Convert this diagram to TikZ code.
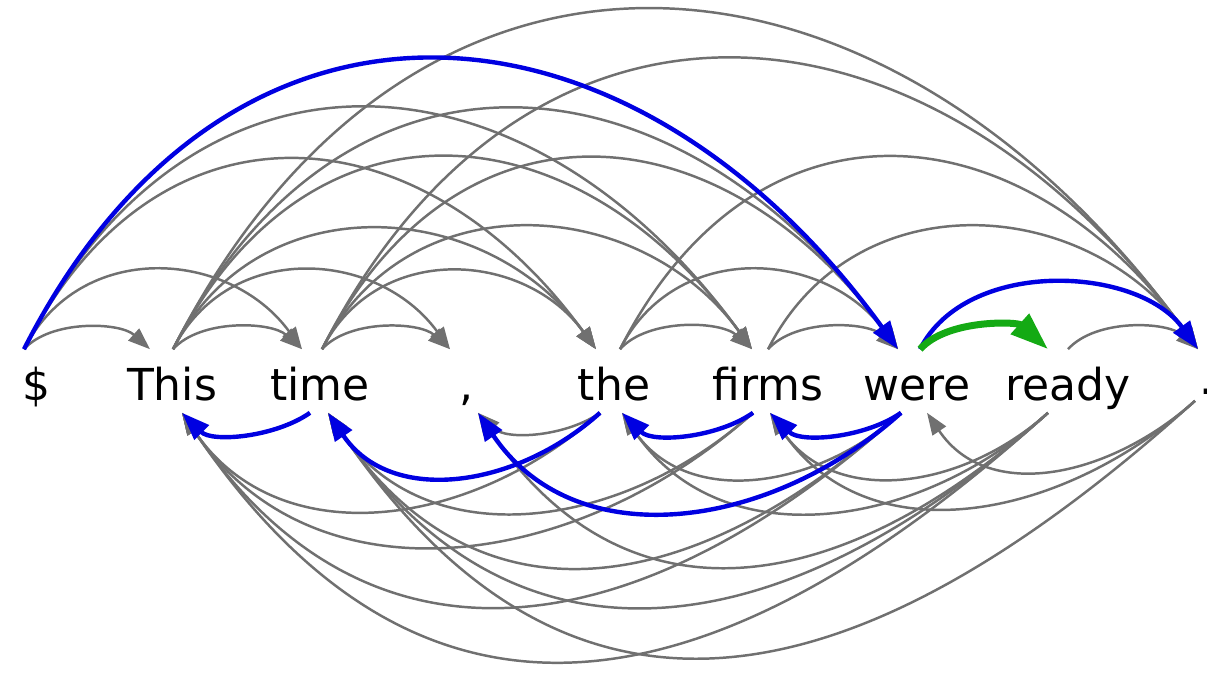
\documentclass[tikz,border=0pt]{standalone}
\usepackage{fontspec}
\newfontfamily\wf{DejaVu Sans}
\usetikzlibrary{arrows.meta}
\definecolor{arcgray}{RGB}{112,112,112}
\definecolor{goldblue}{RGB}{0,0,225}
\definecolor{pickgreen}{RGB}{20,170,20}
\begin{document}
\begin{tikzpicture}[x=0.25pt,y=0.25pt,
  word/.style={font=\wf\fontsize{11}{12.5}\selectfont, inner sep=0pt, text height=12.5pt, text depth=3pt, anchor=base},
  cand/.style={draw=arcgray, line width=0.62pt, -{Triangle[length=5.5pt,width=4pt]}},
  gold/.style={draw=goldblue, line width=1.1pt, -{Triangle[length=7pt,width=5pt]}},
  pick/.style={draw=pickgreen, line width=1.75pt, -{Triangle[length=9.5pt,width=6.5pt]}},
  tS/.style={out=48,in=138,looseness=0.82},
  tM/.style={out=63,in=126,looseness=1.14},
  tL/.style={out=63,in=126,looseness=1.33},
  bS/.style={out=-145,in=-45,looseness=0.85},
  bM/.style={out=-138,in=-56,looseness=1.06},
  bL/.style={out=-138,in=-56,looseness=1.22},
  bX/.style={out=-138,in=-56,looseness=1.3}]
\useasboundingbox (0,0) rectangle (1207,676);
% words
\node[word] (dollar) at (36,276) {\$};
\node[word] (this) at (172,276) {This};
\node[word] (time) at (320,276) {time};
\node[word] (comma) at (466,276) {,};
\node[word] (the) at (614,276) {the};
\node[word] (firms) at (768,276) {firms};
\node[word] (were) at (917,276) {were};
\node[word] (ready) at (1068,276) {ready};
\node[word] (dot) at (1206,282) {.};
% anchor points
\coordinate (dollar-to) at ([xshift=-3pt]dollar.north);
\coordinate (this-ti) at ([xshift=-5.5pt]this.north);
\coordinate (this-to) at ([xshift=0.25pt]this.north);
\coordinate (this-bi) at ([xshift=2.5pt]this.south);
\coordinate (time-ti) at ([xshift=-4.5pt]time.north);
\coordinate (time-to) at ([xshift=0.5pt]time.north);
\coordinate (time-bi) at ([xshift=2pt]time.south);
\coordinate (time-bo) at ([xshift=-2.5pt]time.south);
\coordinate (comma-ti) at ([xshift=-4pt]comma.north);
\coordinate (comma-bi) at ([xshift=3pt]comma.south);
\coordinate (the-ti) at ([xshift=-4.5pt]the.north);
\coordinate (the-to) at ([xshift=1.5pt]the.north);
\coordinate (the-bi) at ([xshift=2pt]the.south);
\coordinate (the-bo) at ([xshift=-3.5pt]the.south);
\coordinate (firms-ti) at ([xshift=-4pt]firms.north);
\coordinate (firms-to) at ([xshift=0pt]firms.north);
\coordinate (firms-bi) at ([xshift=0.5pt]firms.south);
\coordinate (firms-bo) at ([xshift=-3.75pt]firms.south);
\coordinate (were-ti) at ([xshift=-4.75pt]were.north);
\coordinate (were-to) at ([xshift=0.75pt]were.north);
\coordinate (were-bi) at ([xshift=2.5pt]were.south);
\coordinate (were-bo) at ([xshift=-4pt]were.south);
\coordinate (ready-ti) at ([xshift=-5pt]ready.north);
\coordinate (ready-to) at ([xshift=0pt]ready.north);
\coordinate (ready-bo) at ([xshift=-5pt]ready.south);
\coordinate (dot-ti) at ([xshift=-2pt,yshift=-1.5pt]dot.north);
\coordinate (dot-bo) at ([xshift=-2.75pt,yshift=1.5pt]dot.south);
% candidate arcs above (head left, dependent right)
\draw[cand] (dollar-to) to[tS] (this-ti);
\draw[cand] (dollar-to) to[tM] (time-ti);
\draw[cand] (dollar-to) to[tL] (the-ti);
\draw[cand] (dollar-to) to[tL] (firms-ti);
\draw[cand] (this-to) to[tS] (time-ti);
\draw[cand] (this-to) to[tM] (comma-ti);
\draw[cand] (this-to) to[tM] (the-ti);
\draw[cand] (this-to) to[tL] (firms-ti);
\draw[cand] (this-to) to[tL] (were-ti);
\draw[cand] (this-to) to[tL] (dot-ti);
\draw[cand] (time-to) to[tS] (comma-ti);
\draw[cand] (time-to) to[tM] (the-ti);
\draw[cand] (time-to) to[tM] (firms-ti);
\draw[cand] (time-to) to[tL] (were-ti);
\draw[cand] (time-to) to[tL] (dot-ti);
\draw[cand] (the-to) to[tS] (firms-ti);
\draw[cand] (the-to) to[tM] (were-ti);
\draw[cand] (the-to) to[tL] (dot-ti);
\draw[cand] (firms-to) to[tS] (were-ti);
\draw[cand] (firms-to) to[tM] (dot-ti);
\draw[cand] (ready-to) to[tS] (dot-ti);
% candidate arcs below (head right, dependent left)
\draw[cand] (the-bo) to[bS] (comma-bi);
\draw[cand] (the-bo) to[bM] (this-bi);
\draw[cand] (firms-bo) to[bM] (time-bi);
\draw[cand] (firms-bo) to[bM] (this-bi);
\draw[cand] (were-bo) to[bM] (the-bi);
\draw[cand] (were-bo) to[bL] (time-bi);
\draw[cand] (were-bo) to[bL] (this-bi);
\draw[cand] (ready-bo) to[bM] (firms-bi);
\draw[cand] (ready-bo) to[bM] (the-bi);
\draw[cand] (ready-bo) to[bL] (comma-bi);
\draw[cand] (ready-bo) to[bL] (time-bi);
\draw[cand] (ready-bo) to[bX] (this-bi);
\draw[cand] (dot-bo) to[bM] (were-bi);
\draw[cand] (dot-bo) to[bM] (firms-bi);
\draw[cand] (dot-bo) to[bX] (time-bi);
% selected tree
\draw[gold] (dollar-to) to[tL] (were-ti);
\draw[gold] (were-to) to[tM, looseness=0.95] (dot-ti);
\draw[gold] (time-bo) to[bS] (this-bi);
\draw[gold] (the-bo) to[bM] (time-bi);
\draw[gold] (firms-bo) to[bS] (the-bi);
\draw[gold] (were-bo) to[bS] (firms-bi);
\draw[gold] (were-bo) to[bM] (comma-bi);
\draw[pick] (were-to) to[tS] (ready-ti);
\end{tikzpicture}
\end{document}
